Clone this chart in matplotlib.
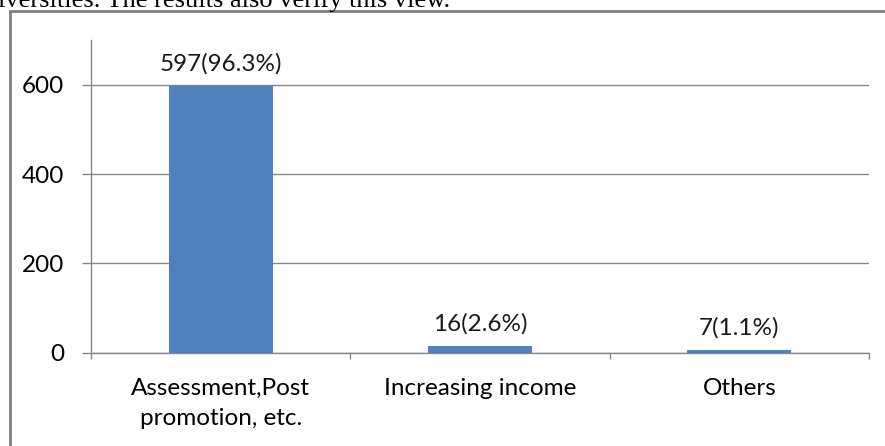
import matplotlib
matplotlib.use('Agg')
import matplotlib.pyplot as plt
from matplotlib.patches import Rectangle

# data
categories = ['Assessment,Post\npromotion, etc.', 'Increasing income', 'Others']
counts = [597, 16, 7]
labels = ['597(96.3%)', '16(2.6%)', '7(1.1%)']
yticks = [0, 200, 400, 600]

bar_color = '#4F81BD'
gray = '#868686'
plt.rcParams['font.family'] = ['Lato', 'DejaVu Sans']

fig = plt.figure(figsize=(8.85, 4.46), dpi=100)
W, H = 885, 446

# text cut off above the chart
fig.text(-2 / W, 1 - 7 / H, 'iversities. The results also verify this view.',
         family='Liberation Serif', fontsize=19, va='baseline', ha='left')

# border of the chart frame (left and top edges only visible)
fig.add_artist(Rectangle((10 / W, -0.1), 1.2, 1 - 11 / H + 0.1,
                         transform=fig.transFigure, fill=False,
                         edgecolor='#808080', linewidth=2))

ax = fig.add_axes([91 / W, 93.3 / H, (869 - 91) / W, (352.7 - 40) / H])
x = range(len(categories))
ax.bar(x, counts, width=0.4, color=bar_color, zorder=3)
for i, (c, lab) in enumerate(zip(counts, labels)):
    ax.annotate(lab, (i, c), xytext=(0, 8), textcoords='offset points',
                ha='center', va='bottom', fontsize=17.5, color='#1a1a1a')

ax.set_xlim(-0.5, 2.5)
ax.set_ylim(0, 700)
ax.set_yticks(yticks)
ax.set_xticks(list(x))
ax.set_xticklabels(categories, fontsize=17.5, linespacing=1.55)
ax.set_xticks([-0.5, 0.5, 1.5, 2.5], minor=True)
ax.tick_params(axis='x', which='major', length=0, pad=18)
ax.tick_params(axis='x', which='minor', length=4.5, color=gray, width=1)
ax.tick_params(axis='y', length=6.5, color=gray, width=1, labelsize=17.5, pad=13)
ax.yaxis.grid(True, color=gray, linewidth=1)
ax.set_axisbelow(True)
for s in ['top', 'right']:
    ax.spines[s].set_visible(False)
for s in ['left', 'bottom']:
    ax.spines[s].set_color(gray)
    ax.spines[s].set_linewidth(1)

fig.savefig('out.png', dpi=100)
